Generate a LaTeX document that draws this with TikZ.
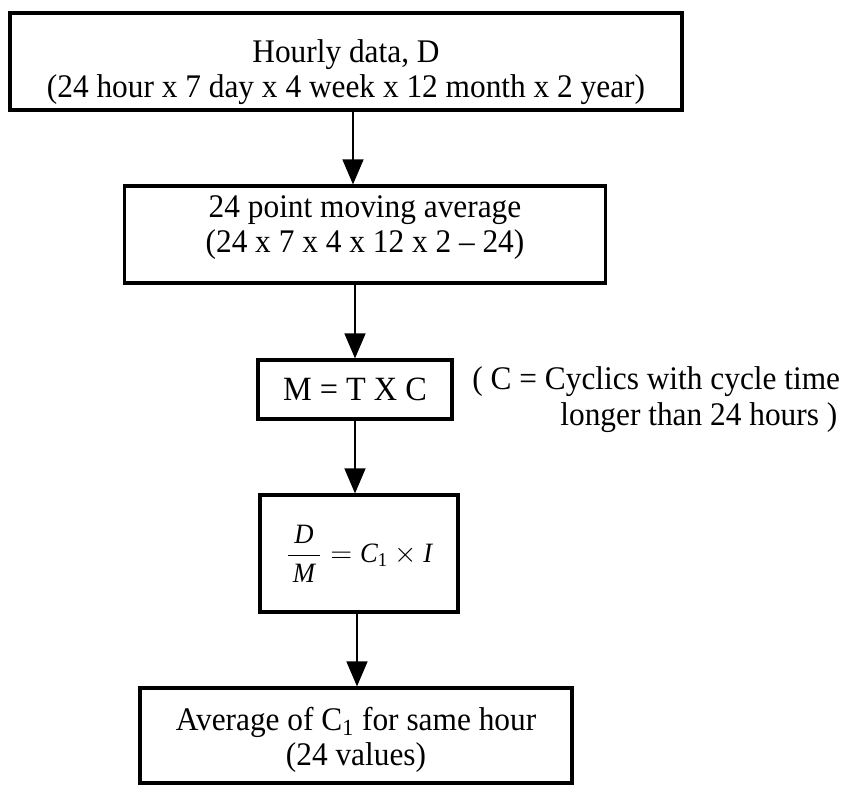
\documentclass[tikz,border=0pt]{standalone}
\usepackage{amsmath}
\usepackage{fontspec}
\setmainfont{Liberation Serif}[FakeStretch=0.95]
\usetikzlibrary{arrows.meta}
\begin{document}
\begin{tikzpicture}[x=0.5pt,y=-0.5pt,
  box/.style={draw,line width=1.6pt,align=center,inner sep=0pt,
    font=\fontsize{16.5}{17.5}\selectfont},
  txt/.style={inner sep=0pt,font=\fontsize{16.5}{17.5}\selectfont,anchor=base west},
  flow/.style={line width=0.8pt,-{Triangle[width=10.5pt,length=12.5pt]}}]
\useasboundingbox (0,0) rectangle (850,785);
\node[box,minimum width=336pt,minimum height=48.5pt] (b1) at (346,61.5)
  {\rule{0pt}{22.3pt}Hourly data, D\\(24 hour x 7 day x 4 week x 12 month x 2 year)};
\node[box,minimum width=240.5pt,minimum height=48.5pt] (b2) at (365,234.5)
  {24 point moving average\\(24 x 7 x 4 x 12 x 2 -- 24)\rule[-10.2pt]{0pt}{1pt}};
\node[box,minimum width=97pt,minimum height=29.5pt,font=\fontsize{17}{18}\selectfont] (b3) at (355,389.5)
  {M = T X C};
\node[box,minimum width=99pt,minimum height=58.5pt,font=\fontsize{14}{16}\selectfont] (b4) at (359,553.5)
  {$\dfrac{\,\textit{D}\,}{\,\textit{M}\,} = \textit{C}_{\textrm{1}}\times\textit{I}$};
\node[box,minimum width=216pt,minimum height=47.5pt] (b5) at (356,735.5)
  {\rule{0pt}{15.6pt}Average of C\textsubscript{1} for same hour\\(24 values)};
\node[txt] (n1) at (472,390) {( C = Cyclics with cycle time};
\node[txt] (n2) at (560,425) {longer than 24 hours )};
\draw[flow] (b1.south -| 353,0) -- (b2.north -| 353,0);
\draw[flow] (b2.south -| 355,0) -- (b3.north -| 355,0);
\draw[flow] (b3.south -| 355,0) -- (b4.north -| 355,0);
\draw[flow] (b4.south -| 357,0) -- (b5.north -| 357,0);
\end{tikzpicture}
\end{document}
